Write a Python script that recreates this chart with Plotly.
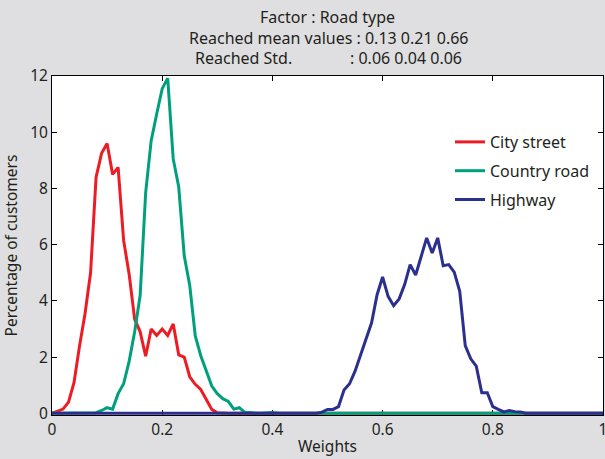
import plotly.graph_objects as go

weights = [0.00, 0.01, 0.02, 0.03, 0.04, 0.05, 0.06, 0.07, 0.08, 0.09,
           0.10, 0.11, 0.12, 0.13, 0.14, 0.15, 0.16, 0.17, 0.18, 0.19,
           0.20, 0.21, 0.22, 0.23, 0.24, 0.25, 0.26, 0.27, 0.28, 0.29,
           0.30, 0.31, 0.32, 0.33, 0.34, 0.35, 0.36, 0.37, 0.38, 0.39,
           0.40, 0.41, 0.42, 0.43, 0.44, 0.45, 0.46, 0.47, 0.48, 0.49,
           0.50, 0.51, 0.52, 0.53, 0.54, 0.55, 0.56, 0.57, 0.58, 0.59,
           0.60, 0.61, 0.62, 0.63, 0.64, 0.65, 0.66, 0.67, 0.68, 0.69,
           0.70, 0.71, 0.72, 0.73, 0.74, 0.75, 0.76, 0.77, 0.78, 0.79,
           0.80, 0.81, 0.82, 0.83, 0.84, 0.85, 0.86, 0.87, 0.88, 0.89,
           0.90, 0.91, 0.92, 0.93, 0.94, 0.95, 0.96, 0.97, 0.98, 0.99,
           1.00]

city_street = [0, 0.08, 0.15, 0.4, 1.1, 2.4, 3.55, 5.0, 8.4, 9.25,
               9.6, 8.5, 8.75, 6.15, 4.95, 3.35, 2.9, 2.03, 3.0, 2.77,
               3.0, 2.77, 3.18, 2.08, 2.0, 1.3, 1.03, 0.85, 0.5, 0.14,
               0.02, 0, 0, 0, 0, 0, 0, 0, 0, 0,
               0, 0, 0, 0, 0, 0, 0, 0, 0, 0,
               0, 0, 0, 0, 0, 0, 0, 0, 0, 0,
               0, 0, 0, 0, 0, 0, 0, 0, 0, 0,
               0, 0, 0, 0, 0, 0, 0, 0, 0, 0,
               0, 0, 0, 0, 0, 0, 0, 0, 0, 0,
               0, 0, 0, 0, 0, 0, 0, 0, 0, 0,
               0]

country_road = [0, 0, 0, 0, 0, 0, 0, 0, 0.02, 0.1,
                0.2, 0.15, 0.7, 1.05, 1.85, 2.9, 4.2, 7.85, 9.7, 10.65,
                11.55, 11.92, 9.05, 8.05, 5.6, 4.55, 2.75, 2.05, 1.5, 0.97,
                0.7, 0.52, 0.42, 0.15, 0.2, 0.03, 0.03, 0, 0, 0.02,
                0.03, 0, 0, 0, 0, 0, 0, 0, 0, 0,
                0, 0, 0, 0, 0, 0, 0, 0, 0, 0,
                0, 0, 0, 0, 0, 0, 0, 0, 0, 0,
                0, 0, 0, 0, 0, 0, 0, 0, 0, 0,
                0, 0, 0, 0, 0, 0, 0, 0, 0, 0,
                0, 0, 0, 0, 0, 0, 0, 0, 0, 0,
                0]

highway = [0, 0, 0, 0, 0, 0, 0, 0, 0, 0,
           0, 0, 0, 0, 0, 0, 0, 0, 0, 0,
           0, 0, 0, 0, 0, 0, 0, 0, 0, 0,
           0, 0, 0, 0, 0, 0, 0, 0, 0, 0,
           0, 0, 0, 0, 0, 0, 0, 0, 0, 0.04,
           0.14, 0.14, 0.24, 0.83, 1.05, 1.5, 2.06, 2.63, 3.22, 4.22,
           4.85, 4.16, 3.83, 4.07, 4.58, 5.29, 4.92, 5.58, 6.24, 5.7,
           6.24, 5.25, 5.29, 5.02, 4.34, 2.41, 1.94, 1.68, 0.73, 0.73,
           0.24, 0.14, 0.05, 0.1, 0.06, 0.05, 0, 0, 0, 0,
           0, 0, 0, 0, 0, 0, 0, 0, 0, 0,
           0]

series_names = ["City street", "Country road", "Highway"]
series_colors = ["#ed1c24", "#00a07c", "#2b2f8e"]

x_ticks = [0, 0.2, 0.4, 0.6, 0.8, 1]
x_ticklabels = ["0", "0.2", "0.4", "0.6", "0.8", "1"]
y_ticks = [0, 2, 4, 6, 8, 10, 12]

title_line1 = "Factor : Road type"
title_line2 = "Reached mean values : 0.13 0.21 0.66"
title_line3a = "Reached Std."
title_line3b = ": 0.06 0.04 0.06"

FONT = "Noto Sans"
TXT = "#231f20"

fig = go.Figure()
for i, (name, ys, col) in enumerate(zip(series_names, [city_street, country_road, highway], series_colors)):
    fig.add_trace(go.Scatter(x=weights, y=ys, mode="lines", name=name,
                             legendgroup=f"g{i}",
                             line=dict(color=col, width=3)))

L, R, T, B = 52, 603, 76, 415
W, H = 605, 459
pw = R - L
ph = B - T

def px_x(px):
    return (px - L) / pw

def px_y(py):
    return (B - py) / ph

annots = [
    dict(text=title_line1, x=px_x(327), y=px_y(17), xanchor="center", yanchor="middle"),
    dict(text=title_line2, x=px_x(328.5), y=px_y(38), xanchor="center", yanchor="middle"),
    dict(text=title_line3a, x=px_x(193), y=px_y(58), xanchor="left", yanchor="middle"),
    dict(text=title_line3b, x=px_x(348), y=px_y(58), xanchor="left", yanchor="middle"),
]
for a in annots:
    a.update(xref="paper", yref="paper", showarrow=False,
             font=dict(family=FONT, size=16, color=TXT))

fig.update_layout(
    width=W, height=H,
    margin=dict(l=L, r=W - R, t=T, b=H - B, pad=0, autoexpand=False),
    paper_bgcolor="#dfdfe1",
    plot_bgcolor="#ffffff",
    font=dict(family=FONT, size=15, color=TXT),
    annotations=annots,
    showlegend=True,
    legend=dict(x=px_x(450), y=px_y(125), xanchor="left", yanchor="top",
                bgcolor="rgba(0,0,0,0)", borderwidth=0,
                tracegroupgap=5,
                font=dict(family=FONT, size=16, color=TXT)),
    xaxis=dict(range=[0, 1], tickvals=x_ticks, ticktext=x_ticklabels,
               ticks="inside", ticklen=5, tickcolor="#000", tickwidth=1,
               showline=True, linecolor="#000", linewidth=1, mirror="allticks",
               showgrid=False, zeroline=False, layer="below traces",
               automargin=False, ticklabeloverflow="allow",
               title=dict(text="Weights", standoff=2, font=dict(size=15.5)),
               tickfont=dict(size=15.5)),
    yaxis=dict(range=[-0.06, 12], tickvals=y_ticks,
               ticks="inside", ticklen=5, tickcolor="#000", tickwidth=1,
               showline=True, linecolor="#000", linewidth=1, mirror="allticks",
               showgrid=False, zeroline=False, layer="below traces",
               automargin=False, ticklabeloverflow="allow",
               title=dict(text="Percentage of customers", standoff=13, font=dict(size=15.5)),
               tickfont=dict(size=15.5)),
)

fig.write_html("out.html",
               config={"displayModeBar": False},
               post_script="document.body.style.margin='0';document.body.style.overflow='hidden';")
